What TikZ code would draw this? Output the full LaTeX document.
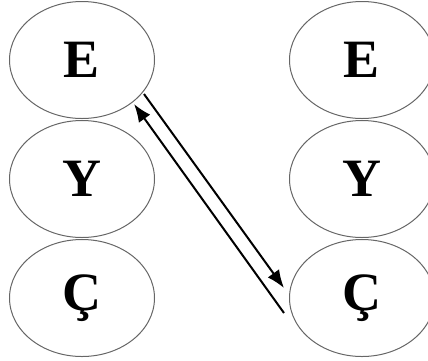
\documentclass[tikz,border=0pt]{standalone}
\usepackage{fontspec}
\setmainfont{Liberation Serif}
\usetikzlibrary{shapes.geometric,arrows.meta}
\newcommand{\lettr}[1]{\fontsize{54}{54}\selectfont\bfseries #1}

\begin{document}
\begin{tikzpicture}[x=1pt,y=1pt,
    circ/.style={ellipse,draw=black!60,line width=1pt,minimum width=145pt,minimum height=117pt,inner sep=0pt},
    link/.style={line width=2pt,-{Latex[length=18pt,width=14pt]}}]
    \useasboundingbox (0,0) rectangle (428,-360);
    % left column
    \node[circ] (E1) at (82,-60) {\lettr{E}};
    \node[circ] (Y1) at (82,-179) {\lettr{Y}};
    \node[circ] (C1) at (82,-298) {\lettr{Ç}};
    % right column
    \node[circ] (E2) at (362,-60) {\lettr{E}};
    \node[circ] (Y2) at (362,-179) {\lettr{Y}};
    \node[circ] (C2) at (362,-298) {\lettr{Ç}};
    % arrows
    \coordinate (to) at (284,-288);
    \coordinate (from) at (284,-313);
    \coordinate (back) at (134,-104);
    \coordinate (out) at (144,-94);
    \draw[link] (out) -- (to);
    \draw[link] (from) -- (back);
\end{tikzpicture}
\end{document}
